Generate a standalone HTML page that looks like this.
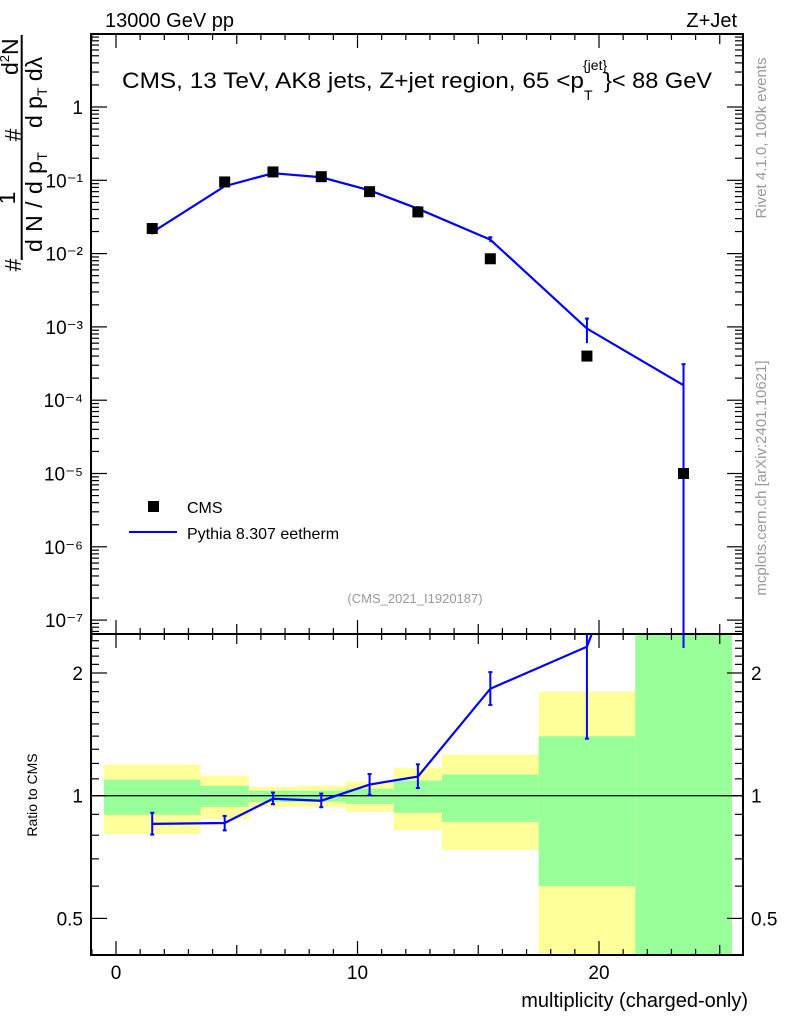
<!DOCTYPE html>
<html><head><meta charset="utf-8"><style>
html,body{margin:0;padding:0;background:#fff;}
svg{display:block;font-family:"Liberation Sans",sans-serif;}
</style></head><body>
<svg id="c" width="786" height="1024" xmlns="http://www.w3.org/2000/svg">
<text x="105" y="27" font-size="20">13000 GeV pp</text>
<text x="737" y="27" font-size="20" text-anchor="end">Z+Jet</text>
<g>
 <text x="122" y="88" font-size="22" textLength="462" lengthAdjust="spacingAndGlyphs">CMS, 13 TeV, AK8 jets, Z+jet region, 65 &lt;p</text>
 <text x="583" y="70" font-size="14">{jet}</text>
 <text x="584" y="100" font-size="14">T</text>
 <text x="604" y="88" font-size="22" textLength="108" lengthAdjust="spacingAndGlyphs">}&lt; 88 GeV</text>
</g>
<text x="415" y="603" font-size="13" fill="#999" text-anchor="middle">(CMS_2021_I1920187)</text>
<text transform="translate(766,138) rotate(-90)" font-size="15" fill="#999" text-anchor="middle">Rivet 4.1.0,  100k events</text>
<text transform="translate(766,478) rotate(-90)" font-size="15" fill="#999" text-anchor="middle">mcplots.cern.ch [arXiv:2401.10621]</text>
<g font-size="23">
 <line x1="21.7" y1="35" x2="21.7" y2="260" stroke="#000" stroke-width="2"/>
 <text transform="translate(21,265) rotate(-90)" text-anchor="middle">#</text>
 <text transform="translate(15,198) rotate(-90)" text-anchor="middle">1</text>
 <text transform="translate(42,252) rotate(-90)" textLength="100" lengthAdjust="spacing">d N / d p<tspan font-size="14" dy="5">T</tspan></text>
 <text transform="translate(21,135) rotate(-90)" text-anchor="middle">#</text>
 <text transform="translate(18,75) rotate(-90)">d<tspan font-size="13" dy="-9">2</tspan><tspan dy="9">N</tspan></text>
 <text transform="translate(42,128) rotate(-90)">d p<tspan font-size="14" dy="5">T</tspan><tspan dy="-5">  dλ</tspan></text>
</g>
<text transform="translate(37,795) rotate(-90)" font-size="14" text-anchor="middle">Ratio to CMS</text>
<text x="748" y="1007" font-size="20" text-anchor="end">multiplicity (charged-only)</text>
<g id="g"></g>
</svg>
<script>
const xCenters=[1.5,4.5,6.5,8.5,10.5,12.5,15.5,19.5,23.5];
const cmsValues=[0.022,0.095,0.13,0.112,0.07,0.037,0.0085,0.0004,0.00001];
const mcValues=[0.0195,0.083,0.125,0.11,0.073,0.041,0.0155,0.00095,0.00016];
const mcErrLo=[0.0012,0.003,0.003,0.003,0.002,0.002,0.0012,0.00035,0.00016];
const mcErrHi=[0.0012,0.003,0.003,0.003,0.002,0.002,0.0012,0.00035,0.00015];
const ratioValues=[0.853,0.857,0.983,0.972,1.065,1.114,1.83,2.32];
const ratioErrLo=[0.05,0.035,0.03,0.035,0.06,0.07,0.16,0.94];
const ratioErrHi=[0.055,0.035,0.035,0.04,0.065,0.08,0.18,0.6];
const binEdges=[-0.5,3.5,5.5,7.5,9.5,11.5,13.5,17.5,21.5,25.5];
const yellowHi=[1.193,1.12,1.05,1.058,1.083,1.17,1.262,1.8,3];
const yellowLo=[0.806,0.877,0.939,0.939,0.913,0.824,0.736,0.3,0.3];
const greenHi=[1.095,1.058,1.029,1.029,1.04,1.089,1.127,1.399,3];
const greenLo=[0.898,0.939,0.966,0.966,0.955,0.908,0.863,0.60,0.3];
const mainTicks=["1","10⁻¹","10⁻²","10⁻³","10⁻⁴","10⁻⁵","10⁻⁶","10⁻⁷"];
const ratioTicks=[0.5,1,2];
const xTicks=[0,10,20];

const L=91,R=743,T=34,M=634,B=955;
const X=v=>116+24.15*v;
const Y=v=>107-73.3*Math.log10(v);
const YR=v=>Math.min(B,Math.max(M,795.7-407.6*Math.log10(v)));
const g=document.getElementById('g');
const NS='http://www.w3.org/2000/svg';
function mk(t,a,p){const e=document.createElementNS(NS,t);for(const k in a)e.setAttribute(k,a[k]);(p||g).appendChild(e);return e;}

for(let i=0;i<yellowHi.length;i++){
 const x0=X(binEdges[i]),x1=X(binEdges[i+1]);
 const y=mk('rect',{x:x0,y:YR(yellowHi[i]),width:x1-x0,height:YR(yellowLo[i])-YR(yellowHi[i]),fill:'#ffff99'});
 
 
 const gr=mk('rect',{x:x0,y:YR(greenHi[i]),width:x1-x0,height:YR(greenLo[i])-YR(greenHi[i]),fill:'#99ff99'});
 
 
}
mk('line',{x1:L,x2:R,y1:YR(1),y2:YR(1),stroke:'#000','stroke-width':1.3});

const f1=mk('rect',{x:L,y:T,width:R-L,height:M-T,fill:'none',stroke:'#000','stroke-width':2});


const f2=mk('rect',{x:L,y:M,width:R-L,height:B-M,fill:'none',stroke:'#000','stroke-width':2});



for(let v=-1;v<=25;v++){
 const len=v%10===0?14:(v%5===0?10:6);
 [[T,1],[M,-1],[M,1],[B,-1]].forEach(([y0,d])=>mk('line',{x1:X(v),x2:X(v),y1:y0,y2:y0+d*len,stroke:'#000','stroke-width':1.2}));
}
xTicks.forEach(v=>{const t=mk('text',{x:X(v),y:979,'font-size':19,'text-anchor':'middle'});t.textContent=v;
 
 });

for(let d=1;d>=-8;d--){
 for(let k=1;k<10;k++){
  const v=k*Math.pow(10,d);const y=Y(v);if(y<T||y>M)continue;
  const len=k===1?16:8;
  mk('line',{x1:L,x2:L+len,y1:y,y2:y,stroke:'#000','stroke-width':1.2});
  mk('line',{x1:R,x2:R-len,y1:y,y2:y,stroke:'#000','stroke-width':1.2});
 }
}
mainTicks.forEach((s,i)=>{const t=mk('text',{x:83,y:Y(Math.pow(10,-i))+7,'font-size':19,'text-anchor':'end'});t.textContent=s;
 
 });

for(let v=0.4;v<=2.5;v+=0.1){
 const y=YR(v);if(y<=M||y>=B)continue;
 const maj=[0.5,1,2].some(m=>Math.abs(m-v)<1e-6);const len=maj?16:8;
 mk('line',{x1:L,x2:L+len,y1:y,y2:y,stroke:'#000','stroke-width':1.2});
 mk('line',{x1:R,x2:R-len,y1:y,y2:y,stroke:'#000','stroke-width':1.2});
}
ratioTicks.forEach(v=>{
 const t=mk('text',{x:83,y:YR(v)+7,'font-size':19,'text-anchor':'end'});t.textContent=v;
 
 
 const t2=mk('text',{x:751,y:YR(v)+7,'font-size':19});t2.textContent=v;
 
 
});

const clipY=y=>Math.min(M,Math.max(T,y));
mk('polyline',{points:xCenters.map((x,i)=>X(x)+','+Y(mcValues[i])).join(' '),fill:'none',stroke:'#0000ff','stroke-width':2.2});
xCenters.forEach((x,i)=>{
 const lo=mcValues[i]-mcErrLo[i];
 const y1=clipY(Y(mcValues[i]+mcErrHi[i])),y2=lo>0?clipY(Y(lo)):M;
 const e=mk('line',{x1:X(x),x2:X(x),y1:y1,y2:y2,stroke:'#0000ff','stroke-width':2});
 
 
 mk('line',{x1:X(x)-2,x2:X(x)+2,y1:y1,y2:y1,stroke:'#0000ff','stroke-width':2});
});
xCenters.forEach((x,i)=>{
 const r=mk('rect',{x:X(x)-5.5,y:Y(cmsValues[i])-5.5,width:11,height:11,fill:'#000'});
 
 
});

const rpts=ratioValues.map((r,i)=>X(xCenters[i])+','+YR(r));
rpts.push(X(xCenters[7]+0.2)+','+M);
mk('polyline',{points:rpts.join(' '),fill:'none',stroke:'#0000ff','stroke-width':2.2});
ratioValues.forEach((r,i)=>{
 const x=X(xCenters[i]),y1=YR(r+ratioErrHi[i]),y2=YR(r-ratioErrLo[i]);
 const e=mk('line',{x1:x,x2:x,y1:y1,y2:y2,stroke:'#0000ff','stroke-width':2});
 
 
 if(y1>M)mk('line',{x1:x-2,x2:x+2,y1:y1,y2:y1,stroke:'#0000ff','stroke-width':2});
 mk('line',{x1:x-2,x2:x+2,y1:y2,y2:y2,stroke:'#0000ff','stroke-width':2});
});
mk('line',{x1:X(xCenters[8]),x2:X(xCenters[8]),y1:M,y2:M+14,stroke:'#0000ff','stroke-width':2});

const lg=mk('g',{});


mk('rect',{x:148,y:501,width:11,height:11,fill:'#000'},lg);
const l1=mk('text',{x:187,y:513,'font-size':16},lg);l1.textContent='CMS';
mk('line',{x1:129,x2:177,y1:532,y2:532,stroke:'#0000ff','stroke-width':2},lg);
const l2=mk('text',{x:187,y:539,'font-size':16},lg);l2.textContent='Pythia 8.307 eetherm';
</script>
</body></html>
